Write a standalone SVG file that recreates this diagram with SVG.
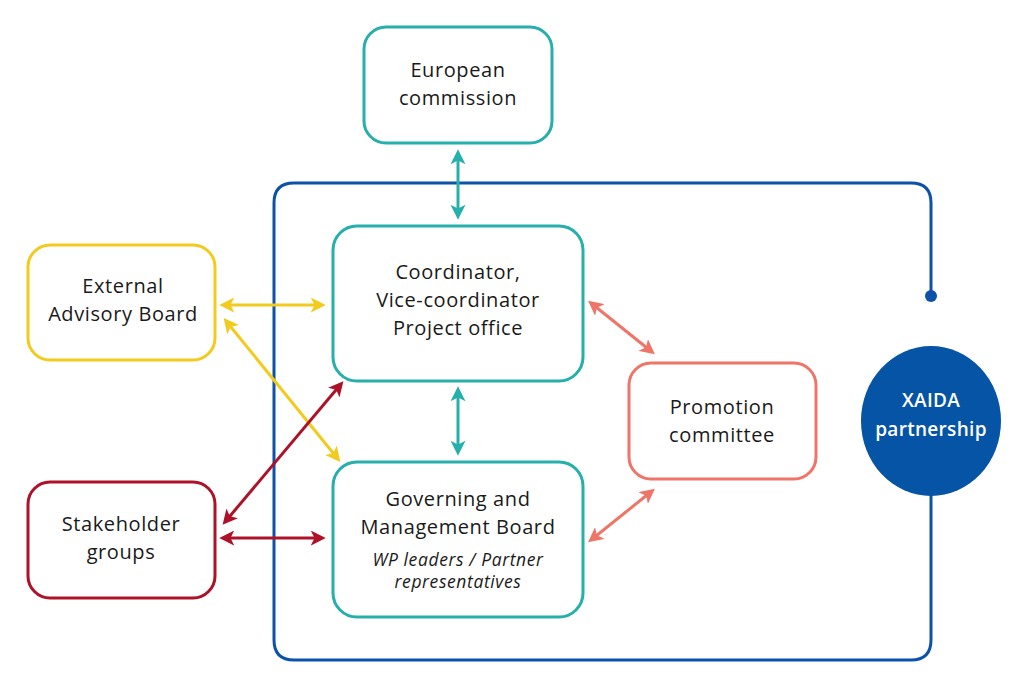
<svg xmlns="http://www.w3.org/2000/svg" width="1024" height="695" viewBox="0 0 1024 695">
<style>
.box{fill:#fff;stroke-width:3}
.teal{stroke:#27AFAC}
.yel{stroke:#F2CB1F}
.red{stroke:#AE1229}
.sal{stroke:#EE7568}
.t{font-family:"Open Sans","Liberation Sans",sans-serif;font-size:20px;letter-spacing:0.6px;fill:#1a1a1a;text-anchor:middle}
.i{font-family:"Open Sans","Liberation Sans",sans-serif;font-size:17.5px;letter-spacing:0.6px;font-style:italic;fill:#1a1a1a;text-anchor:middle}
.w{font-family:"Open Sans","Liberation Sans",sans-serif;font-size:19px;font-weight:600;letter-spacing:0.3px;fill:#fff;text-anchor:middle}
.c{fill:none;stroke-width:3}
</style>
<defs>
<marker id="mT" viewBox="0 0 12 12" refX="9" refY="6" markerWidth="5" markerHeight="5" orient="auto-start-reverse" markerUnits="strokeWidth"><path d="M0,0 L12,6 L0,12 L3,6 z" fill="#27AFAC"/></marker>
<marker id="mY" viewBox="0 0 12 12" refX="9" refY="6" markerWidth="5" markerHeight="5" orient="auto-start-reverse" markerUnits="strokeWidth"><path d="M0,0 L12,6 L0,12 L3,6 z" fill="#F2CB1F"/></marker>
<marker id="mR" viewBox="0 0 12 12" refX="9" refY="6" markerWidth="5" markerHeight="5" orient="auto-start-reverse" markerUnits="strokeWidth"><path d="M0,0 L12,6 L0,12 L3,6 z" fill="#AE1229"/></marker>
<marker id="mS" viewBox="0 0 12 12" refX="9" refY="6" markerWidth="5" markerHeight="5" orient="auto-start-reverse" markerUnits="strokeWidth"><path d="M0,0 L12,6 L0,12 L3,6 z" fill="#EE7568"/></marker>
</defs>
<rect width="1024" height="695" fill="#fff"/>
<g id="frame">
<path d="M931,296 V203 Q931,183 911,183 H294 Q274,183 274,203 V640 Q274,660 294,660 H911 Q931,660 931,640 V495" fill="none" stroke="#0B52A8" stroke-width="3"/>
<circle cx="931" cy="296" r="6" fill="#0B52A8"/>
</g>
<g id="connectors">
<line class="c" stroke="#27AFAC" x1="458" y1="153" x2="458" y2="216" marker-start="url(#mT)" marker-end="url(#mT)"/>
<line class="c" stroke="#27AFAC" x1="458" y1="390" x2="458" y2="452" marker-start="url(#mT)" marker-end="url(#mT)"/>
<line class="c" stroke="#F2CB1F" x1="223" y1="305" x2="322" y2="305" marker-start="url(#mY)" marker-end="url(#mY)"/>
<line class="c" stroke="#F2CB1F" x1="226" y1="321" x2="338" y2="459" marker-start="url(#mY)" marker-end="url(#mY)"/>
<line class="c" stroke="#AE1229" x1="341" y1="384" x2="225" y2="522" marker-start="url(#mR)" marker-end="url(#mR)"/>
<line class="c" stroke="#AE1229" x1="223" y1="538" x2="322" y2="538" marker-start="url(#mR)" marker-end="url(#mR)"/>
<line class="c" stroke="#EE7568" x1="591" y1="303" x2="652" y2="352" marker-start="url(#mS)" marker-end="url(#mS)"/>
<line class="c" stroke="#EE7568" x1="652" y1="491" x2="591" y2="540" marker-start="url(#mS)" marker-end="url(#mS)"/>
</g>
<g id="european-commission">
<rect class="box teal" x="364" y="27" width="188" height="116" rx="22"/>
<text class="t" x="458" y="77">European</text>
<text class="t" x="458" y="105">commission</text>
</g>
<g id="coordinator">
<rect class="box teal" x="333" y="226" width="250" height="155" rx="24"/>
<text class="t" x="458" y="279">Coordinator,</text>
<text class="t" x="458" y="307">Vice-coordinator</text>
<text class="t" x="458" y="335">Project office</text>
</g>
<g id="governing-board">
<rect class="box teal" x="333" y="462" width="250" height="155" rx="24"/>
<text class="t" x="458" y="506">Governing and</text>
<text class="t" x="458" y="534">Management Board</text>
<text class="i" x="458" y="566">WP leaders / Partner</text>
<text class="i" x="458" y="588">representatives</text>
</g>
<g id="external-advisory-board">
<rect class="box yel" x="28" y="245" width="187" height="115" rx="22"/>
<text class="t" x="123" y="293">External</text>
<text class="t" x="123" y="321">Advisory Board</text>
</g>
<g id="stakeholder-groups">
<rect class="box red" x="28" y="482" width="187" height="116" rx="22"/>
<text class="t" x="121" y="531">Stakeholder</text>
<text class="t" x="121" y="559">groups</text>
</g>
<g id="promotion-committee">
<rect class="box sal" x="629" y="363" width="187" height="116" rx="22"/>
<text class="t" x="722" y="414">Promotion</text>
<text class="t" x="722" y="442">committee</text>
</g>
<g id="xaida-partnership">
<ellipse cx="931" cy="421" rx="70" ry="75" fill="#0654A5"/>
<text class="w" x="931" y="407">XAIDA</text>
<text class="w" x="931" y="436">partnership</text>
</g>
</svg>
